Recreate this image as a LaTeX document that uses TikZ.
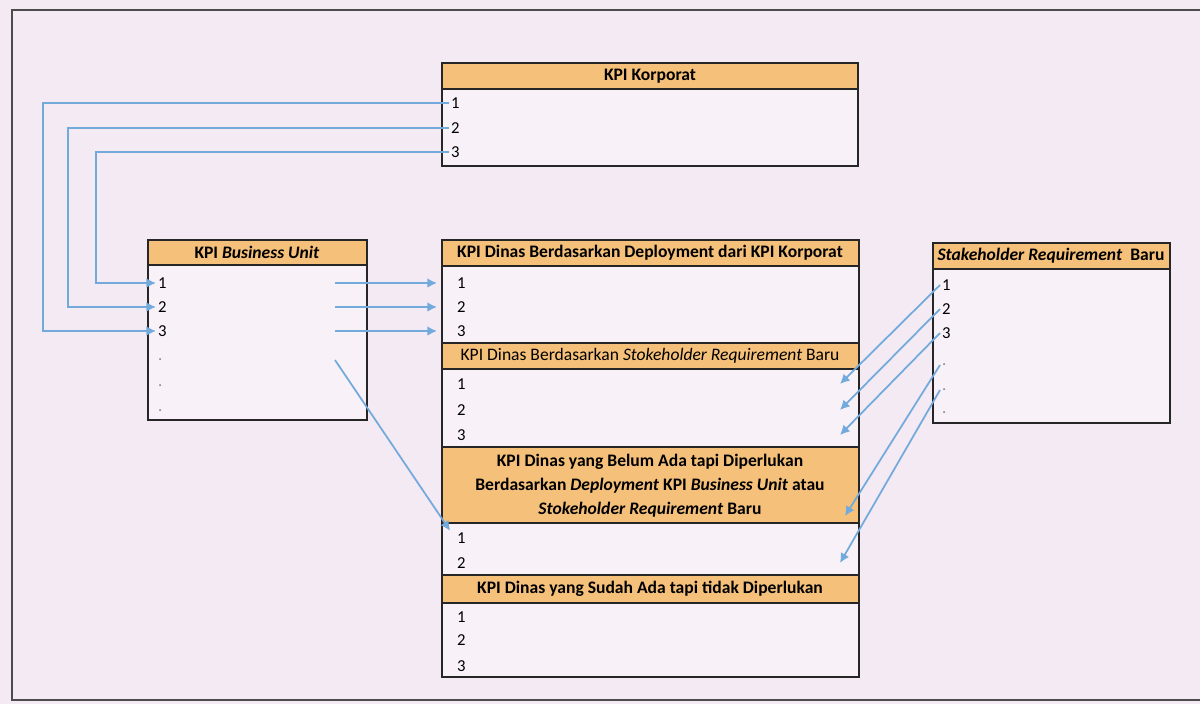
\documentclass[tikz,border=0pt]{standalone}
\usepackage{fontspec}
\setmainfont{Carlito}
\usepackage{xcolor}
\usetikzlibrary{arrows.meta,positioning}
\definecolor{paper}{HTML}{F4EAF4}
\definecolor{cellbg}{HTML}{F8F1F8}
\definecolor{hdrorange}{HTML}{F5C07A}
\definecolor{linkblue}{HTML}{72AADC}

\begin{document}
\begin{tikzpicture}[x=0.02cm,y=-0.02cm,>={Latex[length=5.5pt,width=5.5pt]},
    box/.style={draw=black!85,line width=1.2pt,fill=cellbg},
    hdr/.style={draw=black!85,line width=1.2pt,fill=hdrorange},
    title/.style={font=\bfseries\fontsize{10}{13.6}\selectfont,inner sep=0pt,align=center},
    titlereg/.style={font=\fontsize{10}{12}\selectfont,inner sep=0pt},
    num/.style={font=\fontsize{9.5}{11}\selectfont,inner sep=1pt,anchor=west},
    dot/.style={num,text=black!45},
    link/.style={draw=linkblue,line width=1pt,->}]

    \useasboundingbox (0,0) rectangle (1200,704);
    \fill[paper] (0,0) rectangle (1200,704);
    % frame
    \draw[line width=0.9pt,black!70] (1200,10) -- (12,10) -- (12,700) -- (1200,700);

    % KPI Korporat
    \draw[box] (442,89) rectangle (858,166);
    \draw[hdr] (442,63) rectangle (858,89);
    \node[title] (kor) at (650,76) {KPI Korporat};
    \foreach \i/\y in {1/103,2/128,3/152}
      \node[num] (k\i) at (449,\y) {\i};

    % KPI Business Unit
    \draw[box] (148,265) rectangle (367,420);
    \draw[hdr] (148,240) rectangle (367,265);
    \node[title] (bu) at (257,252) {KPI \textit{Business Unit}};
    \foreach \i/\y in {1/283,2/307,3/331}
      \node[num] (b\i) at (156,\y) {\i};
    \foreach \i/\y in {4/360,5/386,6/411}
      \node[dot] (b\i) at (156,\y) {.};

    % KPI Dinas
    \draw[box] (442,266) rectangle (859,677);
    \draw[hdr] (442,240) rectangle (859,266);
    \node[title] (dep) at (650,253) {KPI Dinas Berdasarkan Deployment dari KPI Korporat};
    \foreach \i/\y in {1/283,2/307,3/331}
      \node[num] (d\i) at (455,\y) {\i};

    \draw[hdr] (442,343) rectangle (859,369);
    \node[titlereg] (req) at (650,356) {KPI Dinas Berdasarkan \textit{Stokeholder Requirement} Baru};
    \foreach \i/\y in {1/384,2/410,3/435}
      \node[num] (r\i) at (455,\y) {\i};

    \draw[hdr] (442,447) rectangle (859,523);
    \node[title] (new) at (650,486) {KPI Dinas yang Belum Ada tapi Diperlukan\\
      Berdasarkan \textit{Deployment} KPI \textit{Business Unit} atau\\
      \textit{Stokeholder Requirement} Baru};
    \foreach \i/\y in {1/538,2/563}
      \node[num] (n\i) at (455,\y) {\i};

    \draw[hdr] (442,575) rectangle (859,603);
    \node[title] (old) at (650,589) {KPI Dinas yang Sudah Ada tapi tidak Diperlukan};
    \foreach \i/\y in {1/617,2/640,3/666}
      \node[num] (o\i) at (455,\y) {\i};

    % Stakeholder Requirement Baru
    \draw[box] (933,269) rectangle (1170,423);
    \draw[hdr] (933,243) rectangle (1170,269);
    \node[title] (sh) at (1051,256) {\textit{Stakeholder Requirement}\ \ Baru};
    \foreach \i/\y in {1/285,2/309,3/333}
      \node[num] (s\i) at (940,\y) {\i};
    \foreach \i/\y in {4/365,5/390,6/413}
      \node[dot] (s\i) at (940,\y) {.};

    % links
    \coordinate (lp1) at (43,0);
    \coordinate (lp2) at (68,0);
    \coordinate (lp3) at (96,0);
    \draw[link] (k1.west) -- (k1.west -| lp1) |- (b3.west);
    \draw[link] (k2.west) -- (k2.west -| lp2) |- (b2.west);
    \draw[link] (k3.west) -- (k3.west -| lp3) |- (b1.west);

    \coordinate (bo) at (335,0);
    \coordinate (depL) at (437,0);
    \foreach \i in {1,2,3}
      \draw[link] (b\i -| bo) -- (d\i -| depL);
    \draw[link,shorten >=5pt] (b4 -| bo) -- (n1.west);

    \coordinate (rc) at (840,0);
    \coordinate (t4) at (845,516);
    \foreach \i in {1,2,3}
      \draw[link] (s\i.west) -- (r\i -| rc);
    \draw[link] (s4.west) -- (t4);
    \draw[link] (s5.west) -- (n2 -| rc);
\end{tikzpicture}
\end{document}
